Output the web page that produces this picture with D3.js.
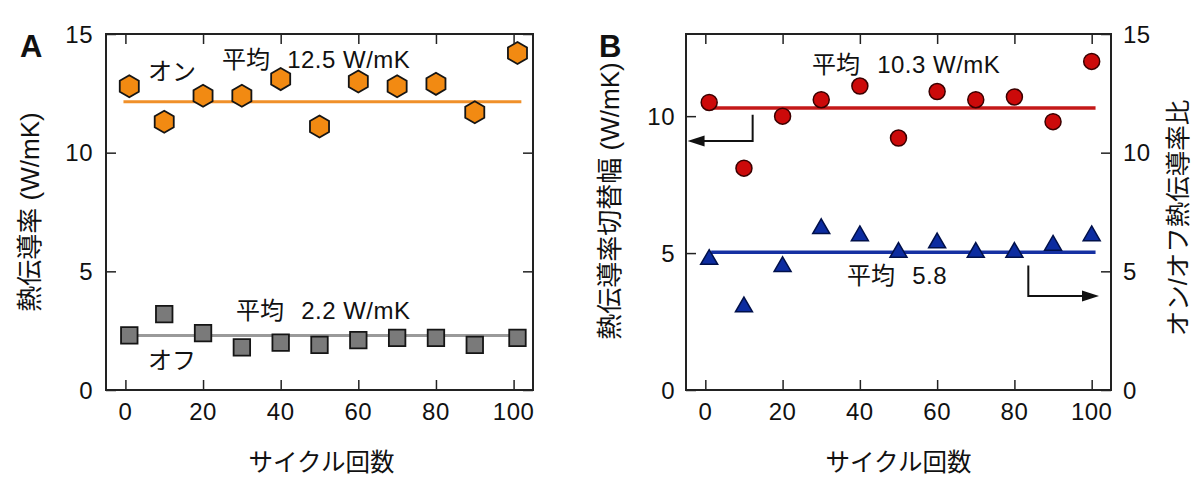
<!DOCTYPE html>
<html><head><meta charset="utf-8">
<script src="https://cdn.jsdelivr.net/npm/d3@7"></script>
<style>
html,body{margin:0;padding:0;background:#fff;}
svg text{font-family:"Liberation Sans","Noto Sans CJK JP",Arial,sans-serif;fill:#111;}
</style></head>
<body><svg id="c" width="1200" height="490"></svg>
<script>
// ---- data ----
const cyclesA = [1, 10, 20, 30, 40, 50, 60, 70, 80, 90, 101];
const onValues = [12.8, 11.3, 12.4, 12.4, 13.1, 11.1, 13.0, 12.8, 12.9, 11.7, 14.2];
const offValues = [2.3, 3.2, 2.4, 1.8, 2.0, 1.9, 2.1, 2.2, 2.2, 1.9, 2.2];
const onMeanLine = 12.15;
const offMeanLine = 2.3;
const meanSpanA = [-0.5, 102];

const cyclesB = [1, 10, 20, 30, 40, 50, 60, 70, 80, 90, 100];
const switchValues = [10.5, 8.1, 10.0, 10.6, 11.1, 9.2, 10.9, 10.6, 10.7, 9.8, 12.0];
const ratioValues = [5.5, 3.5, 5.2, 6.8, 6.5, 5.8, 6.2, 5.8, 5.8, 6.1, 6.5];
const switchMeanLine = 10.3;
const ratioMeanLine = 5.8;
const meanSpanB = [1.5, 101];

const xTicks = [0, 20, 40, 60, 80, 100];
const yTicksA = [0, 5, 10, 15];
const yTicksBLeft = [0, 5, 10];
const yTicksBRight = [0, 5, 10, 15];

// arrow annotations (data coords): [xCorner, yTop, yBottom, xTip]
const arrowLeft = [12.25, 10.05, 9.09, -4.6];
const arrowRight = [83.6, 5.25, 3.96, 101.9];

// ---- drawing ----
const svg = d3.select("#c");
const FS = 24, FSJ = 24, FST = 26, LS = 0.5, TICK = 10;

function hexType(R){ return {draw(ctx){ for(let k=0;k<6;k++){const a=(-90+60*k)*Math.PI/180; const x=R*Math.cos(a), y=R*Math.sin(a); k?ctx.lineTo(x,y):ctx.moveTo(x,y);} ctx.closePath(); }}; }
function squareType(s){ return {draw(ctx){ ctx.rect(-s/2,-s/2,s,s); }}; }
function triType(w){ const h=w*0.866; return {draw(ctx){ ctx.moveTo(0,-2*h/3); ctx.lineTo(w/2,h/3); ctx.lineTo(-w/2,h/3); ctx.closePath(); }}; }
function circType(r){ return {draw(ctx){ ctx.moveTo(r,0); ctx.arc(0,0,r,0,2*Math.PI); }}; }

function frame(g, x0, x1, y0, y1){
  g.append("rect").attr("x",x0).attr("y",y0).attr("width",x1-x0).attr("height",y1-y0)
   .attr("fill","none").attr("stroke","#222").attr("stroke-width",2);
}
function xAxes(g, x, y0, y1){
  const bot = g.append("g").attr("transform",`translate(0,${y1})`)
    .call(d3.axisTop(x).tickValues(xTicks).tickSize(TICK).tickFormat(""));
  bot.select(".domain").remove();
  bot.selectAll("line").attr("stroke","#222").attr("stroke-width",1.5);
  const top = g.append("g").attr("transform",`translate(0,${y0})`)
    .call(d3.axisBottom(x).tickValues(xTicks).tickSize(TICK).tickFormat(""));
  top.select(".domain").remove();
  top.selectAll("line").attr("stroke","#222").attr("stroke-width",1.5);
  g.selectAll(null).data(xTicks).enter().append("text")
    .attr("x",d=>x(d)).attr("y",y1+30).attr("text-anchor","middle")
    .attr("font-size",FS).attr("letter-spacing",LS).text(d=>d);
}
function yTicksIn(g, y, ticks, xPos, dir){
  const ax = g.append("g").attr("transform",`translate(${xPos},0)`)
    .call((dir>0?d3.axisRight(y):d3.axisLeft(y)).tickValues(ticks).tickSize(TICK).tickFormat(""));
  ax.select(".domain").remove();
  ax.selectAll("line").attr("stroke","#222").attr("stroke-width",1.5);
}
function yLabels(g, y, ticks, xPos, anchor){
  g.selectAll(null).data(ticks).enter().append("text")
    .attr("x",xPos).attr("y",d=>y(d)+8.5).attr("text-anchor",anchor)
    .attr("font-size",FS).attr("letter-spacing",LS).text(d=>d);
}
function annot(g, x, y, label, val, dx){
  const t = g.append("text").attr("x",x).attr("y",y).attr("font-size",FS);
  t.append("tspan").attr("font-size",FSJ).text(label);
  t.append("tspan").attr("dx",dx).attr("letter-spacing",LS).text(" "+val);
}
function vtitle(g, cx, cy, txt, fs){
  g.append("text").attr("transform",`translate(${cx},${cy}) rotate(-90)`)
   .attr("text-anchor","middle").attr("dominant-baseline","central").attr("font-size",fs||FST).text(txt);
}

// ===== Panel A =====
(function(){
  const L=106, R=533, T=34, B=390;
  const g = svg.append("g");
  const x = d3.scaleLinear().domain([-5,105]).range([L,R]);
  const y = d3.scaleLinear().domain([0,15]).range([B,T]);

  g.append("line").attr("x1",x(meanSpanA[0])).attr("x2",x(meanSpanA[1]))
   .attr("y1",y(onMeanLine)).attr("y2",y(onMeanLine)).attr("stroke","#F0902A").attr("stroke-width",3);
  g.append("line").attr("x1",x(meanSpanA[0])).attr("x2",x(meanSpanA[1]))
   .attr("y1",y(offMeanLine)).attr("y2",y(offMeanLine)).attr("stroke","#9a9a9a").attr("stroke-width",3);

  g.selectAll(null).data(cyclesA.map((c,i)=>[c,offValues[i]])).enter().append("path")
   .attr("d", d3.symbol().type(squareType(16.5)))
   .attr("transform",d=>`translate(${x(d[0])},${y(d[1])})`)
   .attr("fill","#7a7a7a").attr("stroke","#151515").attr("stroke-width",1.8);
  g.selectAll(null).data(cyclesA.map((c,i)=>[c,onValues[i]])).enter().append("path")
   .attr("d", d3.symbol().type(hexType(11)))
   .attr("transform",d=>`translate(${x(d[0])},${y(d[1])})`)
   .attr("fill","#F28A12").attr("stroke","#151515").attr("stroke-width",1.8);

  frame(g,L,R,T,B);
  xAxes(g,x,T,B);
  yTicksIn(g,y,yTicksA,L,1);
  yTicksIn(g,y,yTicksA,R,-1);
  yLabels(g,y,yTicksA,L-13,"end");

  g.append("text").attr("x",148).attr("y",80).attr("font-size",FSJ).text("オン");
  g.append("text").attr("x",148).attr("y",369).attr("font-size",FSJ).text("オフ");
  annot(g,222,68,"平均","12.5 W/mK",10);
  annot(g,236,319,"平均","2.2 W/mK",10);

  g.append("text").attr("x",20).attr("y",57).attr("font-size",31).attr("font-weight","bold").text("A");
  vtitle(g,30,212,"熱伝導率 (W/mK)");
  g.append("text").attr("x",(L+R)/2+2).attr("y",471).attr("text-anchor","middle").attr("font-size",24.5).text("サイクル回数");
})();

// ===== Panel B =====
(function(){
  const L=686, R=1111, T=34, B=390;
  const g = svg.append("g");
  const x = d3.scaleLinear().domain([-5,105]).range([L,R]);
  const yL = d3.scaleLinear().domain([0,13]).range([B,T]);
  const yR = d3.scaleLinear().domain([0,15]).range([B,T]);

  g.append("line").attr("x1",x(meanSpanB[0])).attr("x2",x(meanSpanB[1]))
   .attr("y1",yL(switchMeanLine)).attr("y2",yL(switchMeanLine)).attr("stroke","#C41818").attr("stroke-width",3.5);
  g.append("line").attr("x1",x(meanSpanB[0])).attr("x2",x(meanSpanB[1]))
   .attr("y1",yR(ratioMeanLine)).attr("y2",yR(ratioMeanLine)).attr("stroke","#1530A2").attr("stroke-width",3.5);

  g.selectAll(null).data(cyclesB.map((c,i)=>[c,switchValues[i]])).enter().append("path")
   .attr("d", d3.symbol().type(circType(8)))
   .attr("transform",d=>`translate(${x(d[0])},${yL(d[1])})`)
   .attr("fill","#CC0A0A").attr("stroke","#3a0000").attr("stroke-width",1.5);
  g.selectAll(null).data(cyclesB.map((c,i)=>[c,ratioValues[i]])).enter().append("path")
   .attr("d", d3.symbol().type(triType(17)))
   .attr("transform",d=>`translate(${x(d[0])},${yR(d[1])})`)
   .attr("fill","#0C2CA0").attr("stroke","#00104a").attr("stroke-width",1.5);

  // arrows
  function arrow(a, ys, dir){
    const [xc, yt, yb, xt] = a;
    g.append("path").attr("d",`M${x(xc)},${ys(yt)}V${ys(yb)}H${x(xt)-dir*15}`)
     .attr("fill","none").attr("stroke","#111").attr("stroke-width",2);
    const tx=x(xt), ty=ys(yb);
    g.append("path").attr("d",`M${tx},${ty}L${tx-dir*17},${ty-5.5}L${tx-dir*17},${ty+5.5}Z`).attr("fill","#111");
  }
  arrow(arrowLeft, yL, -1);
  arrow(arrowRight, yR, 1);

  frame(g,L,R,T,B);
  xAxes(g,x,T,B);
  yTicksIn(g,yL,yTicksBLeft,L,1);
  yTicksIn(g,yR,yTicksBRight,R,-1);
  yLabels(g,yL,yTicksBLeft,L-11,"end");
  yLabels(g,yR,yTicksBRight,R+12,"start");

  annot(g,812,73,"平均","10.3 W/mK",10);
  annot(g,847,284,"平均","5.8",10);

  g.append("text").attr("x",599).attr("y",57).attr("font-size",31).attr("font-weight","bold").text("B");
  vtitle(g,610,201,"熱伝導率切替幅 (W/mK)");
  vtitle(g,1178,218,"オン/オフ熱伝導率比",25.5);
  g.append("text").attr("x",(L+R)/2).attr("y",471).attr("text-anchor","middle").attr("font-size",24.5).text("サイクル回数");
})();
</script></body></html>
